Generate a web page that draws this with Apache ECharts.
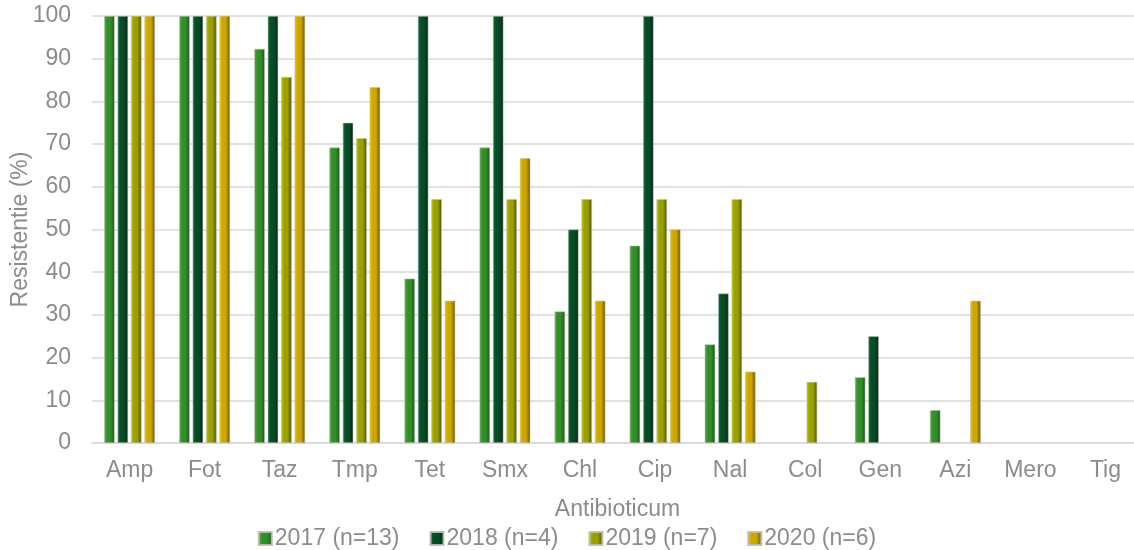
<!DOCTYPE html>
<html>
<head>
<meta charset="utf-8">
<script src="https://cdn.jsdelivr.net/npm/echarts@6/dist/echarts.min.js"></script>
<style>html,body{margin:0;padding:0;background:#fff}#c{width:1134px;height:550px}</style>
</head>
<body>
<div id="c"></div>
<script>
const categories = ['Amp','Fot','Taz','Tmp','Tet','Smx','Chl','Cip','Nal','Col','Gen','Azi','Mero','Tig'];
const seriesNames = ['2017 (n=13)','2018 (n=4)','2019 (n=7)','2020 (n=6)'];
const v2017 = [100,100,92.3,69.2,38.5,69.2,30.8,46.2,23.1,0,15.4,7.7,0,0];
const v2018 = [100,100,100,75,100,100,50,100,35,0,25,0,0,0];
const v2019 = [100,100,85.7,71.4,57.1,57.1,57.1,57.1,57.1,14.3,0,0,0,0];
const v2020 = [100,100,100,83.3,33.3,66.7,33.3,50,16.7,0,0,33.3,0,0];
const yTicks = [0,10,20,30,40,50,60,70,80,90,100];

const palettes = [
  ['#52b043','#338f2c','#1a5516'],
  ['#12703c','#074c27','#012510'],
  ['#bcc800','#99a000','#505400'],
  ['#eec800','#cda600','#6a5400']
];
function grad(p){
  return new echarts.graphic.LinearGradient(0,0,1,0,[
    {offset:0,color:p[0]},{offset:0.3,color:p[1]},{offset:0.6,color:p[1]},{offset:1,color:p[2]}
  ]);
}
const data = [v2017,v2018,v2019,v2020];
const chart = echarts.init(document.getElementById('c'));
const font = 'Liberation Sans, Arial, sans-serif';
const txt = '#8c8c8c';
chart.setOption({
  animation:false,
  textStyle:{fontFamily:font},
  grid:{left:92,right:-9,top:16,bottom:107,containLabel:false,outerBoundsMode:'none'},
  legend:{
    top:522, left:'center', itemWidth:13, itemHeight:13, itemGap:30,
    textStyle:{fontSize:23,color:txt,fontFamily:font,padding:[0,0,0,-2]},
    icon:'rect',
    data:seriesNames
  },
  xAxis:{
    type:'category', data:categories,
    name:'Antibioticum', nameLocation:'middle', nameGap:55, nameMoveOverlap:false,
    nameTextStyle:{fontSize:23,color:txt},
    axisLine:{lineStyle:{color:'#d9d9d9',width:1.5}},
    axisTick:{show:false},
    axisLabel:{fontSize:23,color:txt,margin:16}
  },
  yAxis:{
    type:'value', min:0, max:100, interval:10,
    name:'Resistentie (%)', nameLocation:'middle', nameGap:60, nameMoveOverlap:false,
    nameTextStyle:{fontSize:23,color:txt},
    axisLine:{show:false}, axisTick:{show:false},
    axisLabel:{fontSize:23,color:txt,margin:21,
      formatter:function(v){return yTicks.indexOf(v)>=0?String(v):'';}},
    splitLine:{lineStyle:{color:'#d9d9d9',width:1.5}}
  },
  series: seriesNames.map((n,i)=>({
    name:n, type:'bar', data:data[i].map(v=>v===0?null:v), barWidth:10.5, barGap:'28%',
    itemStyle:{color:grad(palettes[i]), borderColor:'rgba(190,190,175,0.9)', borderWidth:0.6}
  }))
});
</script>
</body>
</html>
